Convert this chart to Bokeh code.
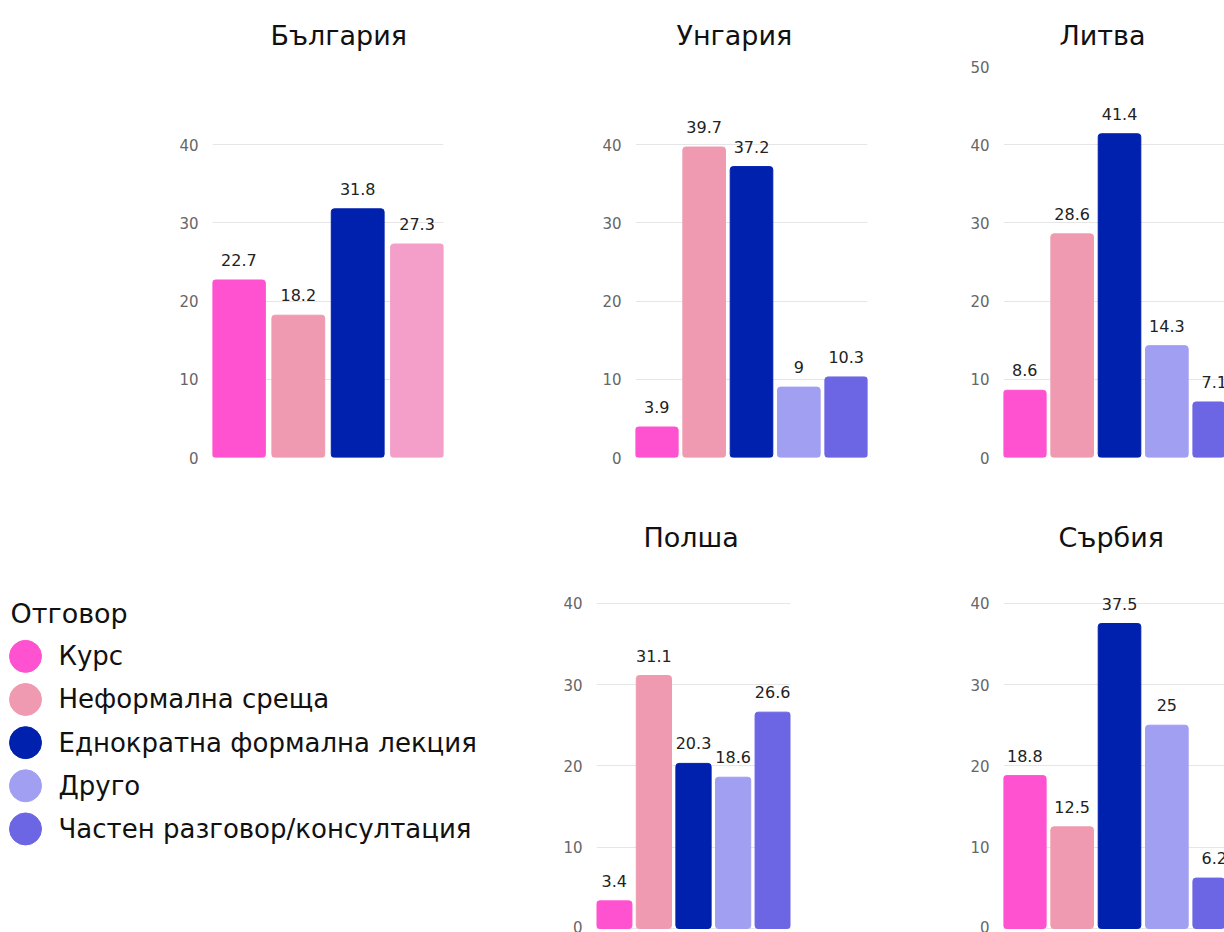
from bokeh.plotting import figure
from bokeh.models import ColumnDataSource, Range1d, FixedTicker
from bokeh.layouts import row, column
from bokeh.embed import file_html
from bokeh.resources import INLINE
from bokeh.core.properties import value

FONT = "DejaVu Sans"

# ---- data ----
legend_title = "Отговор"
categories = ["Курс", "Неформална среща", "Еднократна формална лекция",
              "Друго", "Частен разговор/консултация"]
category_colors = ["#FF52D0", "#EF9AB1", "#0020AE", "#A09FF2", "#6C66E4"]

bulgaria_values = [22.7, 18.2, 31.8, 27.3]
bulgaria_colors = ["#FF52D0", "#EF9AB1", "#0020AE", "#F39FC9"]
hungary_values = [3.9, 39.7, 37.2, 9, 10.3]
lithuania_values = [8.6, 28.6, 41.4, 14.3, 7.1]
poland_values = [3.4, 31.1, 20.3, 18.6, 26.6]
serbia_values = [18.8, 12.5, 37.5, 25, 6.2]

ticks_40 = [0, 10, 20, 30, 40]
ticks_50 = [0, 10, 20, 30, 40, 50]


def panel(title, values, colors, ticks, width, height, bl, br, bt, bb,
          x_start, x_end, y_start, y_end, bar_width, standoff, title_offset):
    n = len(values)
    src = ColumnDataSource(dict(
        x=list(range(1, n + 1)), top=values, color=colors,
        label=[f"{v:g}" for v in values]))
    p = figure(width=width, height=height, title=title,
               x_range=Range1d(x_start, x_end), y_range=Range1d(y_start, y_end),
               output_backend="svg", toolbar_location=None,
               min_border_left=bl, min_border_right=br,
               min_border_top=bt, min_border_bottom=bb)
    p.vbar(x="x", top="top", bottom=0, width=bar_width, color="color",
           source=src, border_radius=3)
    p.text(x="x", y="top", text="label", source=src, text_align="center",
           text_baseline="alphabetic", y_offset=-20,
           text_font=value(FONT), text_font_size="16px", text_color="#222222")
    p.xaxis.visible = False
    p.xgrid.visible = False
    tk = FixedTicker(ticks=ticks)
    p.yaxis.ticker = tk
    p.ygrid.ticker = tk
    p.ygrid.grid_line_color = "#E6E6E6"
    p.yaxis.axis_line_color = None
    p.yaxis.major_tick_line_color = None
    p.yaxis.minor_tick_line_color = None
    p.yaxis.major_tick_out = 0
    p.yaxis.major_tick_in = 0
    p.yaxis.major_label_text_font = FONT
    p.yaxis.major_label_text_font_size = "15px"
    p.yaxis.major_label_text_color = "#666666"
    p.yaxis.major_label_standoff = 14
    p.outline_line_color = None
    p.title.align = "left"
    p.title.offset = title_offset
    p.title.text_font = FONT
    p.title.text_font_size = "27px"
    p.title.text_font_style = "normal"
    p.title.text_color = "#111111"
    p.title.standoff = standoff
    return p


bg = panel("България", bulgaria_values, bulgaria_colors, ticks_40,
           460, 500, 212, 17, 66, 43, 0.555, 4.445, 0, 50, 0.89, 32, 58)
hu = panel("Унгария", hungary_values, category_colors, ticks_40,
           420, 500, 175, 13, 66, 43, 0.55, 5.45, 0, 50, 0.9, 32, 41)
lt = panel("Литва", lithuania_values, category_colors, ticks_50,
           344, 500, 123, 0, 66, 43, 0.55, 5.217, 0, 50, 0.9, 32, 56)
pl = panel("Полша", poland_values, category_colors, ticks_40,
           280, 432, 76, 10, 62, 0, 0.55, 5.45, -0.49, 45, 0.89, 20, 47)
rs = panel("Сърбия", serbia_values, category_colors, ticks_40,
           424, 432, 203, 0, 62, 0, 0.55, 5.217, -0.49, 45, 0.9, 20, 55)

# ---- legend panel ----
leg_src = ColumnDataSource(dict(
    cat=categories, color=category_colors, idx=list(range(len(categories)))))
leg = figure(width=520, height=432,
             x_range=Range1d(-25, 495), y_range=Range1d(6.4, -2.175),
             output_backend="svg", toolbar_location=None,
             min_border_left=0, min_border_right=0,
             min_border_top=62, min_border_bottom=0)
leg.scatter(x=0, y="idx", size=32, color="color", source=leg_src)
leg.text(x=0, y="idx", text="cat", source=leg_src, x_offset=33,
         text_baseline="middle", text_font=value(FONT),
         text_font_size="26px", text_color="#111111")
leg.text(x=[0], y=[-1], text=[legend_title], x_offset=-15,
         text_baseline="middle", text_font=value(FONT),
         text_font_size="27px", text_color="#111111")
leg.axis.visible = False
leg.grid.visible = False
leg.outline_line_color = None

layout = column(row(bg, hu, lt), row(leg, pl, rs))

open("out.html", "w").write(file_html(layout, INLINE))
